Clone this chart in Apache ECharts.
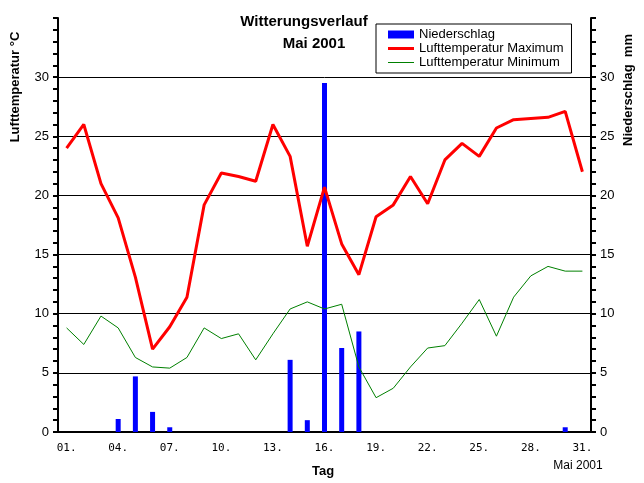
<!DOCTYPE html>
<html>
<head>
<meta charset="utf-8">
<script src="https://cdn.jsdelivr.net/npm/echarts@6/dist/echarts.min.js"></script>
<style>html,body{margin:0;padding:0;background:#fff}#c{width:644px;height:483px}</style>
</head>
<body>
<div id="c"></div>
<script>
var days = ['01','02','03','04','05','06','07','08','09','10','11','12','13','14','15','16','17','18','19','20','21','22','23','24','25','26','27','28','29','30','31'];
var tempMax = [24.0, 26.0, 21.0, 18.1, 13.1, 7.0, 8.9, 11.4, 19.2, 21.9, 21.6, 21.2, 26.0, 23.3, 15.7, 20.7, 15.9, 13.3, 18.2, 19.2, 21.6, 19.3, 23.0, 24.4, 23.3, 25.7, 26.4, 26.5, 26.6, 27.1, 22.0];
var tempMin = [8.8, 7.4, 9.8, 8.8, 6.3, 5.5, 5.4, 6.3, 8.8, 7.9, 8.3, 6.1, 8.3, 10.4, 11.0, 10.4, 10.8, 5.5, 2.9, 3.7, 5.5, 7.1, 7.3, 9.2, 11.2, 8.1, 11.4, 13.2, 14.0, 13.6, 13.6];
var precip = [0, 0, 0, 1.1, 4.7, 1.7, 0.4, 0, 0, 0, 0, 0, 0, 6.1, 1.0, 29.5, 7.1, 8.5, 0, 0, 0, 0, 0, 0, 0, 0, 0, 0, 0, 0.4, 0];
var yTicks = [0, 5, 10, 15, 20, 25, 30];

var FONT = 'Liberation Sans';
var chart = echarts.init(document.getElementById('c'), null, {renderer: 'canvas'});
var gridColors = ['#000','#000','#000','#000','#000','#000','#000','rgba(0,0,0,0)'];

function yAxisCfg(pos, split) {
  return {
    type: 'value', position: pos, min: 0, max: 35, interval: 5,
    axisLine: {show: true, lineStyle: {color: '#000', width: 2}},
    axisTick: {show: true, inside: false, length: 5, lineStyle: {color: '#000', width: 2}},
    minorTick: {show: true, splitNumber: 5, length: 5, lineStyle: {color: '#000', width: 2}},
    axisLabel: {
      margin: 9, color: '#000', fontFamily: FONT, fontSize: 13,
      formatter: function (v) { return yTicks.indexOf(v) >= 0 ? String(v) : ''; }
    },
    splitLine: {show: split, lineStyle: {color: gridColors, width: 1}}
  };
}

chart.setOption({
  animation: false,
  backgroundColor: '#fff',
  grid: {left: 58, right: 53, top: 18, bottom: 51},
  legend: {
    left: 376, top: 24, orient: 'vertical',
    backgroundColor: '#fff', borderColor: '#000', borderWidth: 1,
    padding: [4, 8, 4, 12], itemGap: 1, itemWidth: 26, itemHeight: 8,
    textStyle: {color: '#000', fontFamily: FONT, fontSize: 13},
    data: [
      {name: 'Niederschlag', icon: 'rect'},
      {name: 'Lufttemperatur Maximum', icon: 'path://M0,0 H26 V3 H0 Z'},
      {name: 'Lufttemperatur Minimum', icon: 'path://M0,0 H26 V1 H0 Z'}
    ]
  },
  xAxis: {
    type: 'category', data: days, boundaryGap: true,
    axisLine: {lineStyle: {color: '#000', width: 2}},
    axisTick: {interval: 0, length: 4, lineStyle: {color: '#000', width: 2}},
    axisLabel: {
      interval: 2, margin: 11, color: '#000', fontFamily: 'DejaVu Sans Mono', fontSize: 11,
      formatter: function (v) { return v + '.'; }
    },
    splitLine: {show: false}
  },
  yAxis: [yAxisCfg('left', true), yAxisCfg('right', false)],
  graphic: [
    {type: 'text', x: 304, y: 22, style: {text: 'Witterungsverlauf', font: 'bold 15px ' + FONT, fill: '#000', textAlign: 'center', textVerticalAlign: 'middle'}},
    {type: 'text', x: 314, y: 44, style: {text: 'Mai 2001', font: 'bold 15px ' + FONT, fill: '#000', textAlign: 'center', textVerticalAlign: 'middle'}},
    {type: 'text', x: 15, y: 87, rotation: Math.PI / 2, style: {text: 'Lufttemperatur °C', font: 'bold 13px ' + FONT, fill: '#000', textAlign: 'center', textVerticalAlign: 'middle'}},
    {type: 'text', x: 628, y: 90, rotation: Math.PI / 2, style: {text: 'Niederschlag  mm', font: 'bold 13px ' + FONT, fill: '#000', textAlign: 'center', textVerticalAlign: 'middle'}},
    {type: 'text', x: 323, y: 471, style: {text: 'Tag', font: 'bold 13px ' + FONT, fill: '#000', textAlign: 'center', textVerticalAlign: 'middle'}},
    {type: 'text', x: 578, y: 466, style: {text: 'Mai 2001', font: '12px ' + FONT, fill: '#000', textAlign: 'center', textVerticalAlign: 'middle'}}
  ],
  series: [
    {name: 'Niederschlag', type: 'bar', yAxisIndex: 1, data: precip, barWidth: 5, itemStyle: {color: '#0000ff'}, z: 2},
    {name: 'Lufttemperatur Maximum', type: 'line', yAxisIndex: 0, data: tempMax, symbol: 'none', lineStyle: {color: '#ff0000', width: 3}, itemStyle: {color: '#ff0000'}, z: 3},
    {name: 'Lufttemperatur Minimum', type: 'line', yAxisIndex: 0, data: tempMin, symbol: 'none', lineStyle: {color: '#008000', width: 1}, itemStyle: {color: '#008000'}, z: 3}
  ]
});
</script>
</body>
</html>
